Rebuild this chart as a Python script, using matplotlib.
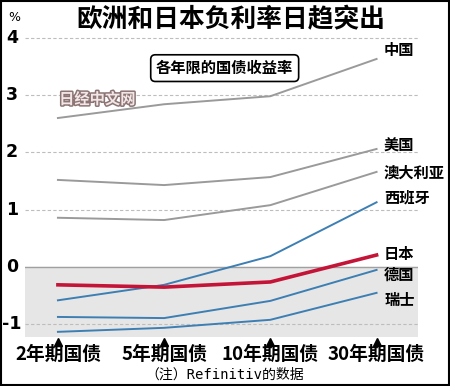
import matplotlib.pyplot as plt
import matplotlib.patheffects as pe

plt.rcParams['font.family'] = ['Noto Sans CJK SC', 'DejaVu Sans']

# data
bonds = ['2年期国债', '5年期国债', '10年期国债', '30年期国债']
countries = ['中国', '美国', '澳大利亚', '西班牙', '日本', '德国', '瑞士']
china = [2.60, 2.84, 2.98, 3.63]
usa = [1.52, 1.43, 1.57, 2.06]
australia = [0.86, 0.82, 1.08, 1.66]
spain = [-0.58, -0.31, 0.19, 1.13]
japan = [-0.31, -0.35, -0.26, 0.21]
germany = [-0.87, -0.89, -0.59, -0.05]
swiss = [-1.13, -1.06, -0.92, -0.45]
yticks = [4, 3, 2, 1, 0, -1]

series = [china, usa, australia, spain, japan, germany, swiss]
gray, blue, red = '#9a9a9a', '#3d7fb3', '#c41438'
colors = [gray, gray, gray, blue, red, blue, blue]
widths = [1.4, 1.4, 1.4, 1.4, 2.6, 1.4, 1.4]
label_y = [3.78, 2.12, 1.65, 1.22, 0.22, -0.14, -0.57]

fig = plt.figure(figsize=(4.5, 3.86), dpi=100)
fig.patch.set_facecolor('white')
ax = fig.add_axes([25 / 450, 49 / 386, 393 / 450, 309 / 386])
ax.set_xlim(-0.31, 3.39)
ax.set_ylim(-1.22, 4.17)
for s in ax.spines.values():
    s.set_visible(False)
ax.set_xticks([])
ax.set_yticks([])

# shaded negative area and grid
ax.axhspan(-1.22, 0, color='#e6e6e6', zorder=0)
ax.axhline(0, color='#a0a0a0', lw=1.0, zorder=1)
for t in yticks:
    if t != 0:
        ax.axhline(t, color='#bdbdbd', lw=0.8, ls=(0, (3, 2)), zorder=1)
    ax.text(-0.31 - 13 / 106, t, str(t), ha='center', va='center',
            fontsize=12.5, fontweight='bold', family='DejaVu Sans')
ax.text(-0.31 - 11 / 106, 4.24, '%', ha='center', va='bottom', fontsize=9,
        family='DejaVu Sans', clip_on=False)

x = range(len(bonds))
for vals, c, w, name, ly in zip(series, colors, widths, countries, label_y):
    ax.plot(x, vals, color=c, lw=w, zorder=3)
    ax.text(3.07, ly, name, ha='left', va='center', fontsize=11,
            fontweight='bold', zorder=4)

# category labels with triangles
for i, b in enumerate(bonds):
    ax.plot(i, -1.30, marker='^', color='black', ms=6, clip_on=False)
    ax.text(i, -1.53, b, ha='center', va='center', fontsize=13.5,
            fontweight='bold', clip_on=False)

ax.text(1.57, 3.47, '各年限的国债收益率', ha='center', va='center', fontsize=11,
        fontweight='bold',
        bbox=dict(boxstyle='round,pad=0.35,rounding_size=0.3', fc='white',
                  ec='black', lw=1.2))

wm = ax.text(0.37, 2.93, '日经中文网', ha='center', va='center', fontsize=11,
             fontweight='bold', color='#f2e6e6', zorder=2)
wm.set_path_effects([pe.Stroke(linewidth=2.2, foreground='#8c7474'), pe.Normal()])

fig.text(0.513, 1 - 20 / 386, '欧洲和日本负利率日趋突出', ha='center', va='center',
         fontsize=18.5, fontweight='heavy')
fig.text(0.5, 1 - 375 / 386, '（注）Refinitiv的数据', ha='center', va='center',
         fontsize=10, family=['DejaVu Sans Mono', 'Noto Sans CJK SC'])

# frame
fig.add_artist(plt.Rectangle((0.002, 0.002), 0.996, 0.996, transform=fig.transFigure,
                             fill=False, ec='black', lw=1.5))

fig.savefig('out.png', dpi=100)
